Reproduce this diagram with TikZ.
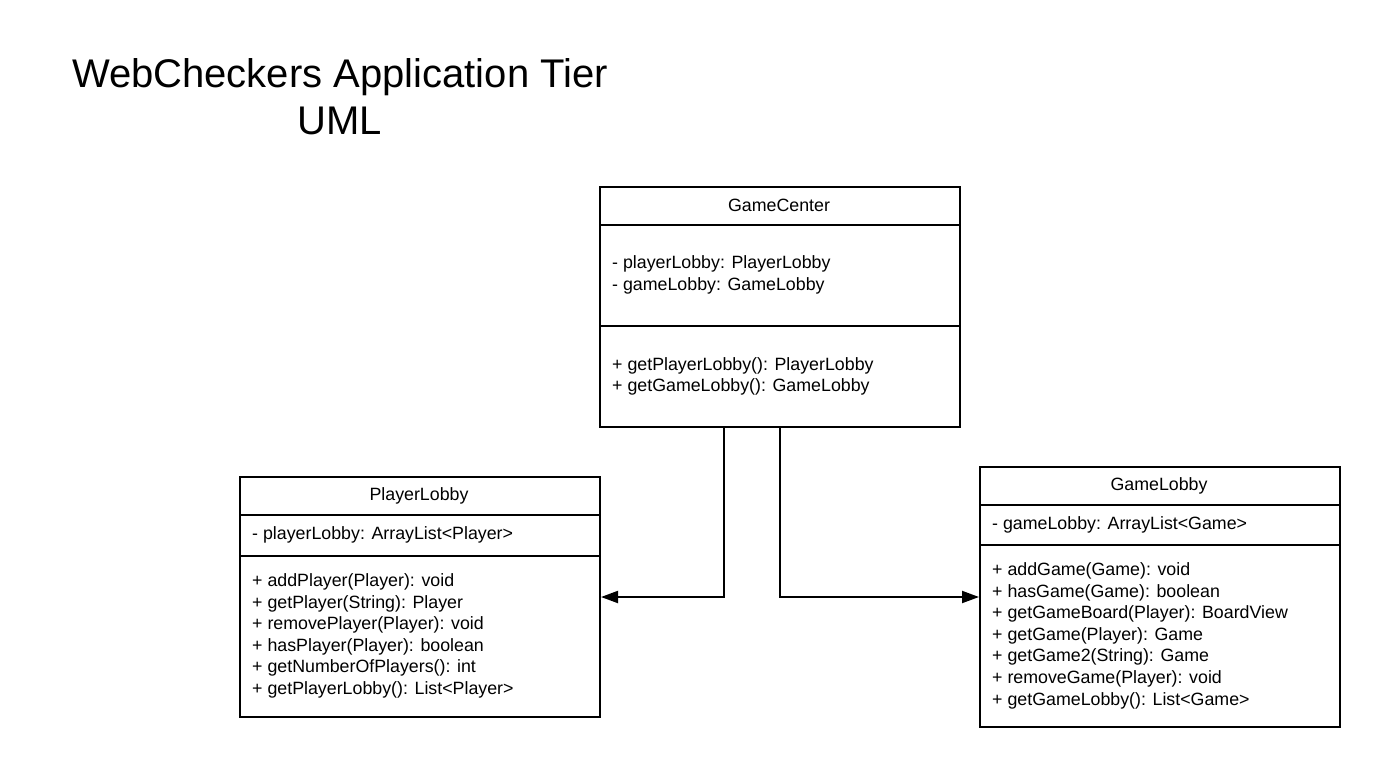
\documentclass[tikz,border=0pt]{standalone}
\usepackage{fontspec}
\setmainfont{Liberation Sans}
\usetikzlibrary{arrows.meta}
\begin{document}
\begin{tikzpicture}[x=1pt,y=-1pt,
  box/.style={draw,line width=2pt,anchor=north west,inner sep=0pt},
  divider/.style={line width=2pt},
  title/.style={font=\fontsize{17.8}{20}\selectfont,anchor=center,yshift=-1.5pt},
  member/.style={font=\fontsize{17.8}{20}\selectfont,anchor=west,inner sep=0pt,yshift=-2pt},
  arr/.style={line width=2pt,-{Triangle[length=17pt,width=12pt]}}]
\useasboundingbox (0,0) rectangle (1380,767);
\node[align=center,font=\fontsize{40}{47}\selectfont] (hdr) at (340,97) {WebCheckers Application Tier\\UML};

% GameCenter
\node[box,minimum width=360pt,minimum height=240pt] (gc) at (599,186) {};
\draw[divider] (599,225) -- (959,225);
\draw[divider] (599,326) -- (959,326);
\node[title] (gct) at (779,204) {GameCenter};
\node[member] (gca1) at (612,262) {- playerLobby: PlayerLobby};
\node[member] (gca2) at (612,284) {- gameLobby: GameLobby};
\node[member] (gcm1) at (612,364) {+ getPlayerLobby(): PlayerLobby};
\node[member] (gcm2) at (612,385) {+ getGameLobby(): GameLobby};

% PlayerLobby
\node[box,minimum width=360pt,minimum height=240pt] (pl) at (239,476) {};
\draw[divider] (239,515) -- (599,515);
\draw[divider] (239,556) -- (599,556);
\node[title] (plt) at (419,494) {PlayerLobby};
\node[member] (pla1) at (252,533) {- playerLobby: ArrayList<Player>};
\node[member] (plm1) at (252,580) {+ addPlayer(Player): void};
\node[member] (plm2) at (252,602) {+ getPlayer(String): Player};
\node[member] (plm3) at (252,623) {+ removePlayer(Player): void};
\node[member] (plm4) at (252,645) {+ hasPlayer(Player): boolean};
\node[member] (plm5) at (252,666) {+ getNumberOfPlayers(): int};
\node[member] (plm6) at (252,688) {+ getPlayerLobby(): List<Player>};

% GameLobby
\node[box,minimum width=360pt,minimum height=260pt] (gl) at (979,466) {};
\draw[divider] (979,505) -- (1339,505);
\draw[divider] (979,545) -- (1339,545);
\node[title] (glt) at (1159,484) {GameLobby};
\node[member] (gla1) at (992,523) {- gameLobby: ArrayList<Game>};
\node[member] (glm1) at (992,569) {+ addGame(Game): void};
\node[member] (glm2) at (992,591) {+ hasGame(Game): boolean};
\node[member] (glm3) at (992,612) {+ getGameBoard(Player): BoardView};
\node[member] (glm4) at (992,634) {+ getGame(Player): Game};
\node[member] (glm5) at (992,655) {+ getGame2(String): Game};
\node[member] (glm6) at (992,677) {+ removeGame(Player): void};
\node[member] (glm7) at (992,699) {+ getGameLobby(): List<Game>};

% connectors
\draw[arr] ([xshift=125pt]gc.south west) |- (pl.east);
\draw[arr] ([xshift=181pt]gc.south west) |- (gl.west);
\end{tikzpicture}
\end{document}
